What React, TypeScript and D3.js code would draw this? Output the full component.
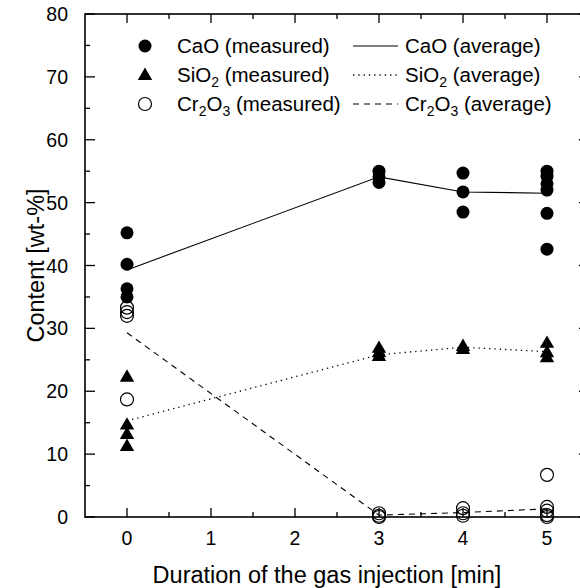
import React from "react";
import * as d3 from "d3";

// Measured compositions (time in min, content in wt-%)
const caoMeasured: [number, number][] = [
  [0, 45.2], [0, 40.2], [0, 36.3], [0, 35.0],
  [3, 55.0], [3, 54.1], [3, 53.2],
  [4, 54.7], [4, 51.7], [4, 48.5],
  [5, 55.0], [5, 54.2], [5, 53.0], [5, 52.0], [5, 48.3], [5, 42.6],
];
const sio2Measured: [number, number][] = [
  [0, 22.3], [0, 14.7], [0, 13.2], [0, 11.3],
  [3, 26.9], [3, 26.2], [3, 25.6],
  [4, 27.2], [4, 26.7],
  [5, 27.7], [5, 26.2], [5, 25.4],
];
const cr2o3Measured: [number, number][] = [
  [0, 33.3], [0, 32.6], [0, 32.0], [0, 18.7],
  [3, 0.6], [3, 0.2], [3, 0.0],
  [4, 1.4], [4, 0.6], [4, 0.2],
  [5, 6.7], [5, 1.6], [5, 1.0], [5, 0.3], [5, 0.0],
];

// Averages per injection time
const avgTimes = [0, 3, 4, 5];
const caoAverage = [39.3, 54.1, 51.7, 51.5];
const sio2Average = [15.3, 25.8, 27.0, 26.3];
const cr2o3Average = [29.3, 0.3, 0.7, 1.3];

const xTicks = [0, 1, 2, 3, 4, 5];
const xMinorTicks = [0.5, 1.5, 2.5, 3.5, 4.5];
const yTicks = [0, 10, 20, 30, 40, 50, 60, 70, 80];
const yMinorTicks = [5, 15, 25, 35, 45, 55, 65, 75];

const W = 580;
const H = 588;
const FONT = "'Liberation Sans', Arial, sans-serif";

const x = d3.scaleLinear().domain([-0.5, 5.5]).range([85, 589]);
const y = d3.scaleLinear().domain([0, 80]).range([517, 14]);

const R = 6.5;
const triPath = (cx: number, cy: number) => {
  const w = 7.2, h = 12.4;
  return `M${cx},${cy - h * 0.6}L${cx + w},${cy + h * 0.4}L${cx - w},${cy + h * 0.4}Z`;
};

const line = d3
  .line<number>()
  .x((_, i) => x(avgTimes[i]))
  .y((d) => y(d));

const MAJOR = 10;
const MINOR = 5;

function Sub({ children }: { children: string }) {
  return (
    <tspan fontSize={14} dy={5}>
      {children}
    </tspan>
  );
}

export default function App() {
  const left = x.range()[0];
  const right = x.range()[1];
  const top = y.range()[1];
  const bottom = y.range()[0];
  const fs = 19.5;
  const lfs = 20.5;

  const legRows = [46, 75, 104];
  const lgMarkX = 145;
  const lgTextX = 177;
  const lgLineX1 = 353;
  const lgLineX2 = 398;
  const lgText2X = 405;

  return (
    <svg
      width={W}
      height={H}
      style={{ position: "absolute", left: 0, top: 0, background: "#fff" }}
      fontFamily={FONT}
    >
      <rect width={W} height={H} fill="#fff" />

      {/* average lines */}
      <path d={line(caoAverage) ?? ""} fill="none" stroke="#000" strokeWidth={1.1} />
      <path
        d={line(sio2Average) ?? ""}
        fill="none"
        stroke="#000"
        strokeWidth={1.3}
        strokeDasharray="1.3 4"
      />
      <path
        d={line(cr2o3Average) ?? ""}
        fill="none"
        stroke="#000"
        strokeWidth={1.1}
        strokeDasharray="6 5"
      />

      {/* frame */}
      <rect
        x={left}
        y={top}
        width={right - left}
        height={bottom - top}
        fill="none"
        stroke="#000"
        strokeWidth={1.6}
      />

      {/* x ticks (bottom and top, inward) */}
      {xTicks.map((t) => (
        <g key={"xt" + t}>
          <line x1={x(t)} x2={x(t)} y1={bottom} y2={bottom - MAJOR + 1} stroke="#000" strokeWidth={1.3} />
          <line x1={x(t)} x2={x(t)} y1={top} y2={top + MAJOR - 1} stroke="#000" strokeWidth={1.3} />
          <text x={x(t)} y={bottom + 28} textAnchor="middle" fontSize={fs}>
            {t}
          </text>
        </g>
      ))}
      {xMinorTicks.map((t) => (
        <g key={"xm" + t}>
          <line x1={x(t)} x2={x(t)} y1={bottom} y2={bottom - MINOR} stroke="#000" strokeWidth={1.3} />
          <line x1={x(t)} x2={x(t)} y1={top} y2={top + MINOR} stroke="#000" strokeWidth={1.3} />
        </g>
      ))}

      {/* y ticks (left and right, inward) */}
      {yTicks.map((t) => (
        <g key={"yt" + t}>
          <line x1={left} x2={left + MAJOR} y1={y(t)} y2={y(t)} stroke="#000" strokeWidth={1.3} />
          <line x1={right} x2={right - MAJOR} y1={y(t)} y2={y(t)} stroke="#000" strokeWidth={1.3} />
          <text x={left - 17} y={y(t) + 7} textAnchor="end" fontSize={fs}>
            {t}
          </text>
        </g>
      ))}
      {yMinorTicks.map((t) => (
        <g key={"ym" + t}>
          <line x1={left} x2={left + MINOR} y1={y(t)} y2={y(t)} stroke="#000" strokeWidth={1.3} />
          <line x1={right} x2={right - MINOR} y1={y(t)} y2={y(t)} stroke="#000" strokeWidth={1.3} />
        </g>
      ))}

      {/* axis titles */}
      <text x={327} y={583} textAnchor="middle" fontSize={23.5}>
        Duration of the gas injection [min]
      </text>
      <text
        transform={`translate(44,${(top + bottom) / 2}) rotate(-90)`}
        textAnchor="middle"
        fontSize={23.5}
      >
        Content [wt-%]
      </text>

      {/* measured points */}
      {caoMeasured.map(([t, v], i) => (
        <circle key={"c" + i} cx={x(t)} cy={y(v)} r={R} fill="#000" />
      ))}
      {sio2Measured.map(([t, v], i) => (
        <path key={"s" + i} d={triPath(x(t), y(v))} fill="#000" />
      ))}
      {cr2o3Measured.map(([t, v], i) => (
        <circle key={"r" + i} cx={x(t)} cy={y(v)} r={R} fill="none" stroke="#000" strokeWidth={1.2} />
      ))}

      {/* legend */}
      <circle cx={lgMarkX} cy={legRows[0]} r={R} fill="#000" />
      <path d={triPath(lgMarkX, legRows[1])} fill="#000" />
      <circle cx={lgMarkX} cy={legRows[2]} r={R} fill="none" stroke="#000" strokeWidth={1.2} />

      <text x={lgTextX} y={legRows[0] + 7} fontSize={lfs}>
        CaO (measured)
      </text>
      <text x={lgTextX} y={legRows[1] + 7} fontSize={lfs}>
        SiO<Sub>2</Sub>
        <tspan dy={-5}> (measured)</tspan>
      </text>
      <text x={lgTextX} y={legRows[2] + 7} fontSize={lfs}>
        Cr<Sub>2</Sub>
        <tspan dy={-5}>O</tspan>
        <Sub>3</Sub>
        <tspan dy={-5}> (measured)</tspan>
      </text>

      <line x1={lgLineX1} x2={lgLineX2} y1={legRows[0]} y2={legRows[0]} stroke="#000" strokeWidth={1.1} />
      <line
        x1={lgLineX1}
        x2={lgLineX2}
        y1={legRows[1]}
        y2={legRows[1]}
        stroke="#000"
        strokeWidth={1.3}
        strokeDasharray="1.3 4"
      />
      <line
        x1={lgLineX1}
        x2={lgLineX2}
        y1={legRows[2]}
        y2={legRows[2]}
        stroke="#000"
        strokeWidth={1.1}
        strokeDasharray="6 5"
      />

      <text x={lgText2X} y={legRows[0] + 7} fontSize={lfs}>
        CaO (average)
      </text>
      <text x={lgText2X} y={legRows[1] + 7} fontSize={lfs}>
        SiO<Sub>2</Sub>
        <tspan dy={-5}> (average)</tspan>
      </text>
      <text x={lgText2X} y={legRows[2] + 7} fontSize={lfs}>
        Cr<Sub>2</Sub>
        <tspan dy={-5}>O</tspan>
        <Sub>3</Sub>
        <tspan dy={-5}> (average)</tspan>
      </text>
    </svg>
  );
}
